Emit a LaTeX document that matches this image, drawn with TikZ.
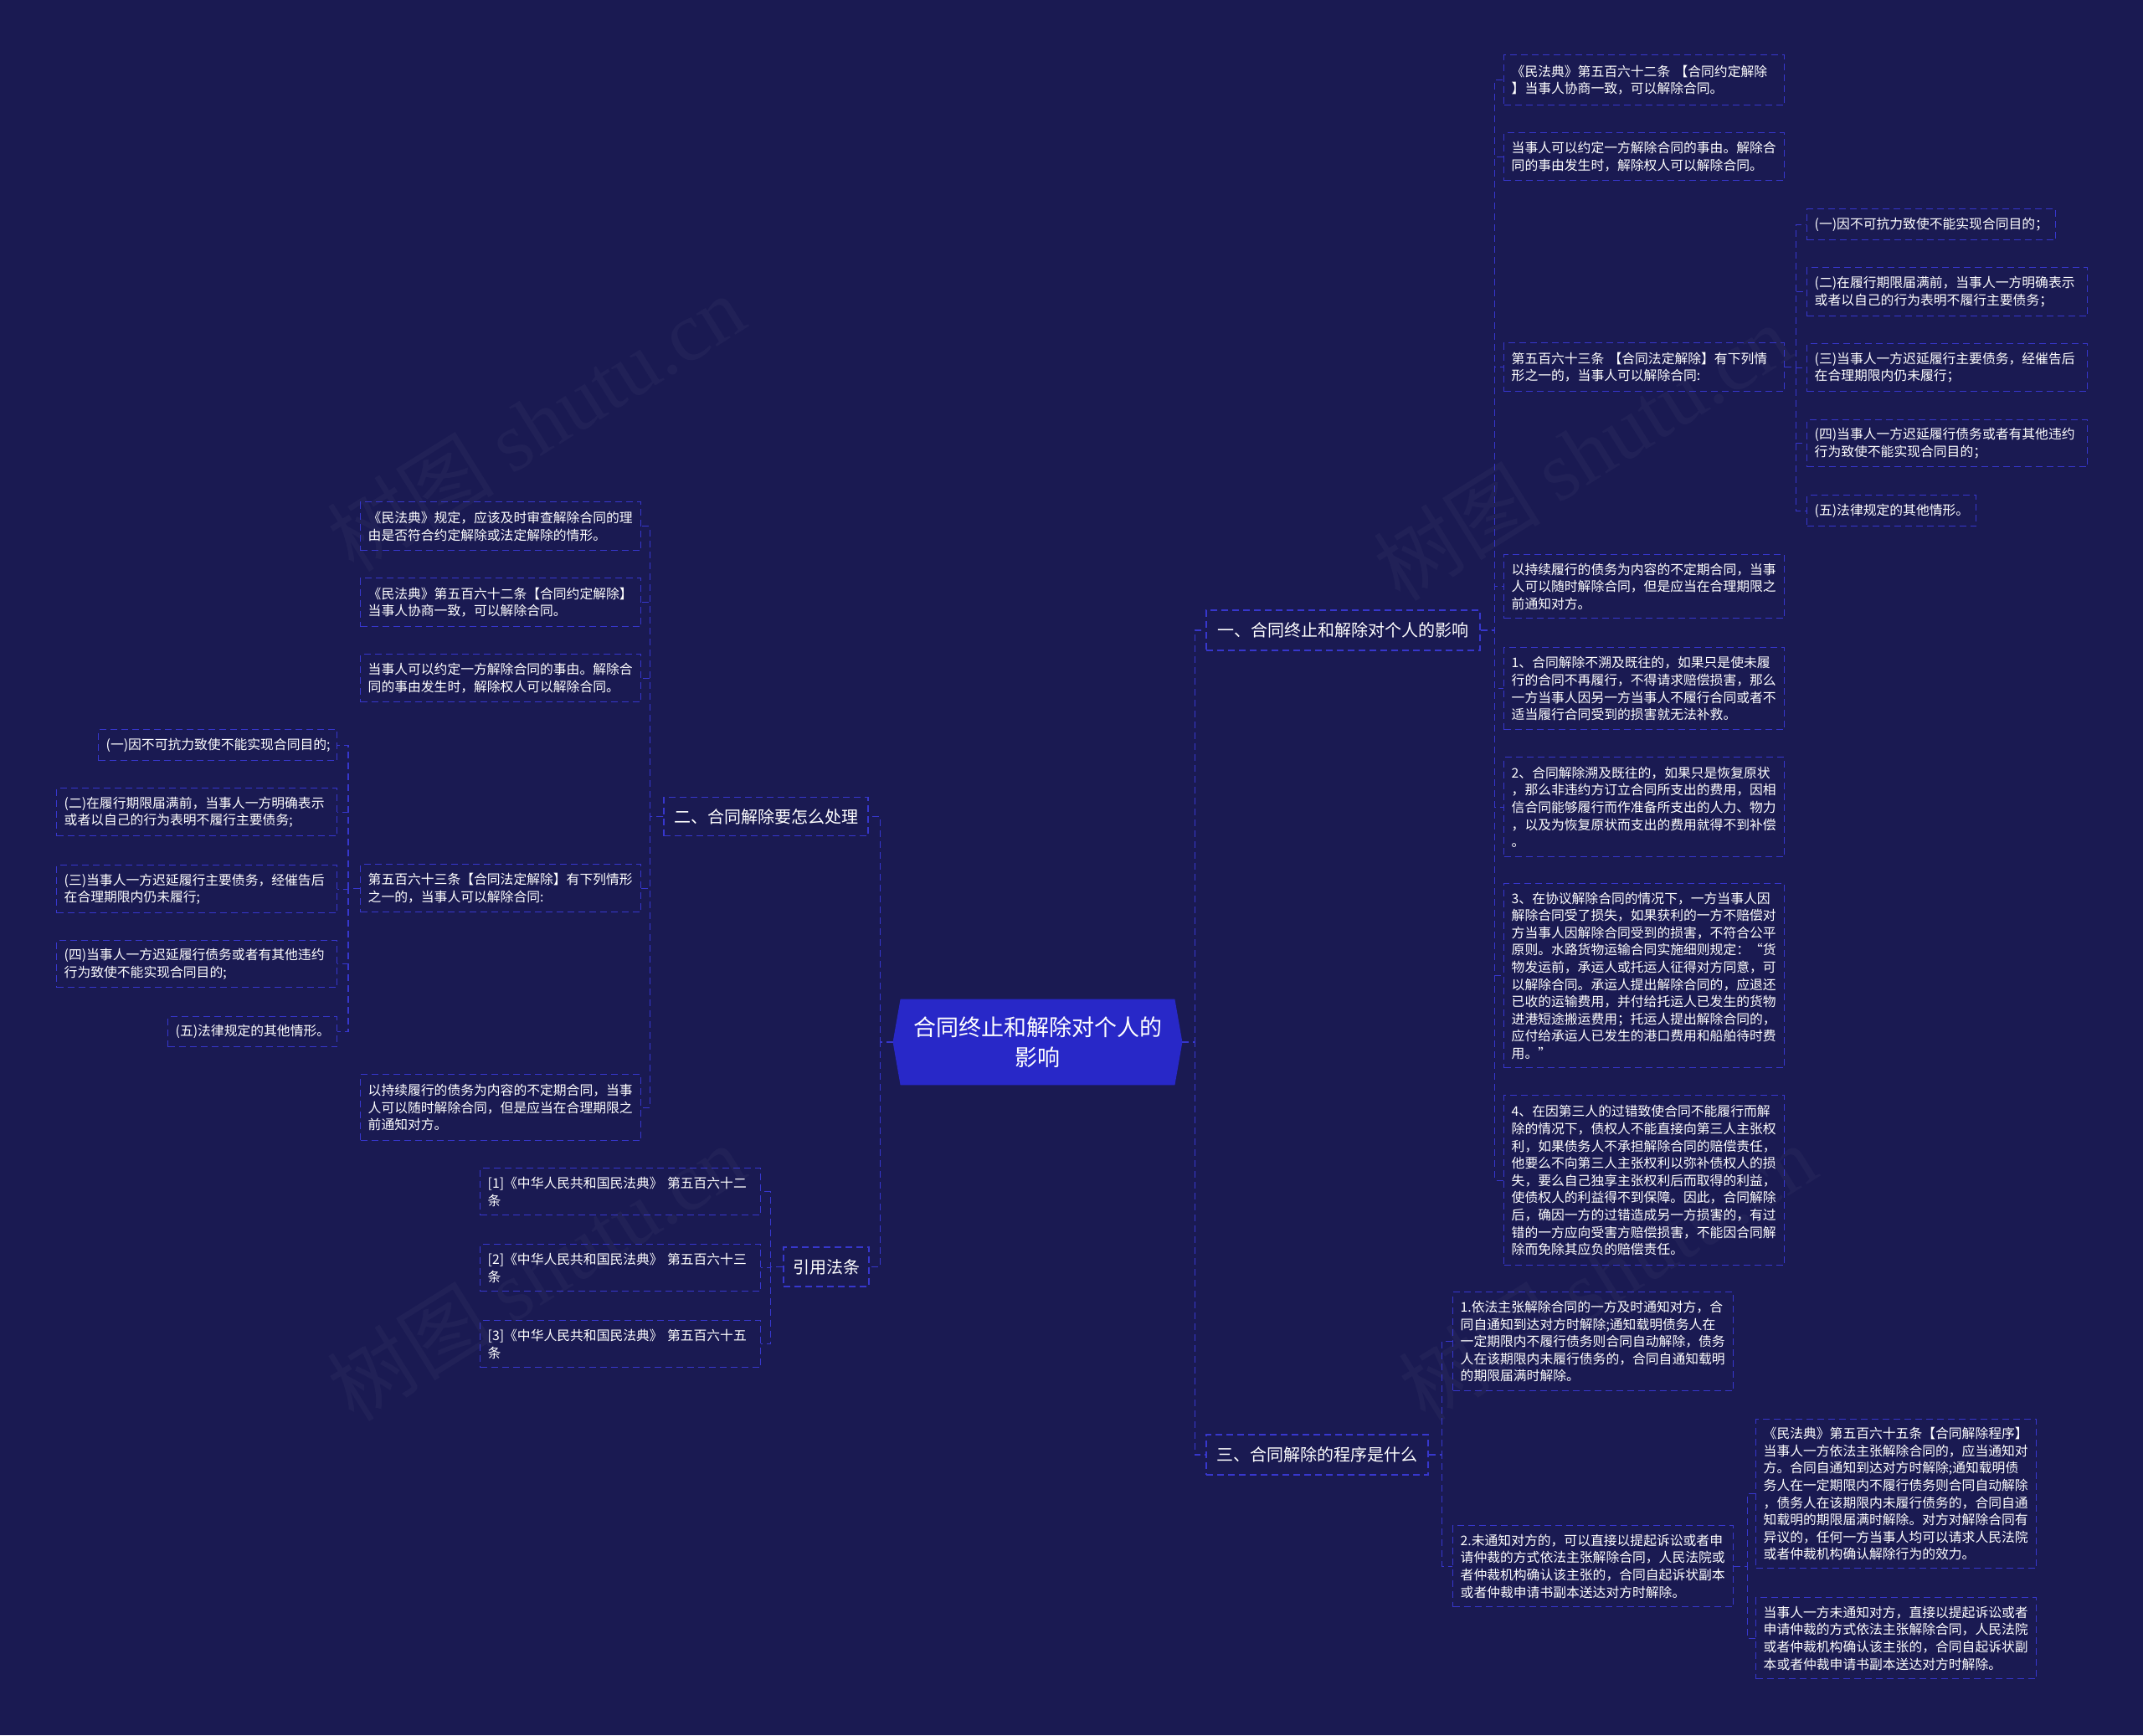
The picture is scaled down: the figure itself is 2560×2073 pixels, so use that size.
\documentclass[tikz,border=0pt]{standalone}
\usepackage{fontspec}
\setmainfont{Noto Sans CJK SC}
\newfontfamily\wmlatin{Liberation Serif}
\definecolor{bgc}{RGB}{26,26,82}
\definecolor{lnc}{RGB}{55,55,205}
\definecolor{rootc}{RGB}{40,40,200}
\pgfdeclarelayer{bglayer}
\pgfdeclarelayer{hexlayer}
\pgfsetlayers{bglayer,hexlayer,main}
\newcommand\leaffont{\fontsize{7.9pt}{10.3pt}\selectfont}
\begin{document}
\begin{tikzpicture}[x=0.5pt,y=-0.5pt,
  box/.style={draw=lnc, line width=0.7pt, dash pattern=on 4pt off 2.5pt, text=white, inner xsep=4.5pt, inner ysep=0pt},
  leaf/.style={box, anchor=north west, align=left, font=\leaffont, text width=158.5pt},
  branch/.style={box, font=\fontsize{10pt}{12pt}\selectfont, inner xsep=0pt, align=center},
  conn/.style={draw=lnc, line width=0.7pt, dash pattern=on 4pt off 2.5pt},
  wm/.style={text=white, opacity=0.03, rotate=32, font=\fontsize{50pt}{50pt}\selectfont}]

\begin{pgfonlayer}{bglayer}
\fill[bgc] (0,0) rectangle (2560,2073);
\end{pgfonlayer}
\useasboundingbox (0,0) rectangle (2560,2073);

% watermarks
\node[wm] (wm1) at (640,505) {树图 {\wmlatin shutu.cn}};
\node[wm] (wm2) at (1890,540) {树图 {\wmlatin shutu.cn}};
\node[wm] (wm3) at (640,1520) {树图 {\wmlatin shutu.cn}};
\node[wm] (wm4) at (1920,1520) {树图 {\wmlatin shutu.cn}};

% root
\node[text=white, font=\fontsize{13.5pt}{18pt}\selectfont, align=center, minimum width=163.5pt, minimum height=51pt, inner sep=0pt] (root) at (1239.5,1245) {合同终止和解除对个人的\\影响};
\begin{pgfonlayer}{hexlayer}
\fill[rootc] (root.north west) -- (root.north east) -- ([xshift=4.5pt]root.east) -- (root.south east) -- (root.south west) -- ([xshift=-4.5pt]root.west) -- cycle;
\end{pgfonlayer}

% branches
\node[branch, minimum width=163.5pt, minimum height=24pt] (R1) at (1604.5,753) {一、合同终止和解除对个人的影响};
\node[branch, minimum width=132.5pt, minimum height=24pt] (R3) at (1573.5,1738) {三、合同解除的程序是什么};
\node[branch, minimum width=122pt, minimum height=23pt] (L2) at (915,975.5) {二、合同解除要怎么处理};
\node[branch, minimum width=51pt, minimum height=23.5pt] (L4) at (987,1513.5) {引用法条};

% right branch 1 children
\node[leaf, minimum height=30pt] (a1) at (1796,65) {《民法典》第五百六十二条~【合同约定解除\\】当事人协商一致，可以解除合同。};
\node[leaf, minimum height=28.5pt] (a2) at (1796,158) {当事人可以约定一方解除合同的事由。解除合\\同的事由发生时，解除权人可以解除合同。};
\node[leaf, minimum height=29pt] (a3) at (1796,409) {第五百六十三条~【合同法定解除】有下列情\\形之一的，当事人可以解除合同:};
\node[leaf, minimum height=38pt] (a4) at (1796,662) {以持续履行的债务为内容的不定期合同，当事\\人可以随时解除合同，但是应当在合理期限之\\前通知对方。};
\node[leaf, minimum height=49pt] (a5) at (1796,773) {1、合同解除不溯及既往的，如果只是使未履\\行的合同不再履行，不得请求赔偿损害，那么\\一方当事人因另一方当事人不履行合同或者不\\适当履行合同受到的损害就无法补救。};
\node[leaf, minimum height=59.5pt] (a6) at (1796,904) {2、合同解除溯及既往的，如果只是恢复原状\\，那么非违约方订立合同所支出的费用，因相\\信合同能够履行而作准备所支出的人力、物力\\，以及为恢复原状而支出的费用就得不到补偿\\。};
\node[leaf, minimum height=110pt] (a7) at (1796,1055) {3、在协议解除合同的情况下，一方当事人因\\解除合同受了损失，如果获利的一方不赔偿对\\方当事人因解除合同受到的损害，不符合公平\\原则。水路货物运输合同实施细则规定：“货\\物发运前，承运人或托运人征得对方同意，可\\以解除合同。承运人提出解除合同的，应退还\\已收的运输费用，并付给托运人已发生的货物\\进港短途搬运费用；托运人提出解除合同的，\\应付给承运人已发生的港口费用和船舶待时费\\用。”};
\node[leaf, minimum height=101.5pt] (a8) at (1796,1308) {4、在因第三人的过错致使合同不能履行而解\\除的情况下，债权人不能直接向第三人主张权\\利，如果债务人不承担解除合同的赔偿责任，\\他要么不向第三人主张权利以弥补债权人的损\\失，要么自己独享主张权利后而取得的利益，\\使债权人的利益得不到保障。因此，合同解除\\后，确因一方的过错造成另一方损害的，有过\\错的一方应向受害方赔偿损害，不能因合同解\\除而免除其应负的赔偿责任。};

% children of a3
\node[leaf, text width=139.5pt, minimum height=18.5pt] (b1) at (2158,249) {(一)因不可抗力致使不能实现合同目的；};
\node[leaf, minimum height=29pt] (b2) at (2158,319) {(二)在履行期限届满前，当事人一方明确表示\\或者以自己的行为表明不履行主要债务；};
\node[leaf, minimum height=28.5pt] (b3) at (2158,410) {(三)当事人一方迟延履行主要债务，经催告后\\在合理期限内仍未履行；};
\node[leaf, minimum height=28pt] (b4) at (2158,501) {(四)当事人一方迟延履行债务或者有其他违约\\行为致使不能实现合同目的；};
\node[leaf, text width=92pt, minimum height=18.5pt] (b5) at (2158,591) {(五)法律规定的其他情形。};

% right branch 3 children
\node[leaf, minimum height=59pt] (c1) at (1735,1543) {1.依法主张解除合同的一方及时通知对方，合\\同自通知到达对方时解除;通知载明债务人在\\一定期限内不履行债务则合同自动解除，债务\\人在该期限内未履行债务的，合同自通知载明\\的期限届满时解除。};
\node[leaf, minimum height=48.5pt] (c2) at (1735,1822) {2.未通知对方的，可以直接以提起诉讼或者申\\请仲裁的方式依法主张解除合同，人民法院或\\者仲裁机构确认该主张的，合同自起诉状副本\\或者仲裁申请书副本送达对方时解除。};
\node[leaf, minimum height=89pt] (d1) at (2097,1695) {《民法典》第五百六十五条【合同解除程序】\\当事人一方依法主张解除合同的，应当通知对\\方。合同自通知到达对方时解除;通知载明债\\务人在一定期限内不履行债务则合同自动解除\\，债务人在该期限内未履行债务的，合同自通\\知载明的期限届满时解除。对方对解除合同有\\异议的，任何一方当事人均可以请求人民法院\\或者仲裁机构确认解除行为的效力。};
\node[leaf, minimum height=48.5pt] (d2) at (2097,1908) {当事人一方未通知对方，直接以提起诉讼或者\\申请仲裁的方式依法主张解除合同，人民法院\\或者仲裁机构确认该主张的，合同自起诉状副\\本或者仲裁申请书副本送达对方时解除。};

% left branch 2 children
\node[leaf, minimum height=29pt] (e1) at (430,599) {《民法典》规定，应该及时审查解除合同的理\\由是否符合约定解除或法定解除的情形。};
\node[leaf, minimum height=29pt] (e2) at (430,690) {《民法典》第五百六十二条【合同约定解除】\\当事人协商一致，可以解除合同。};
\node[leaf, minimum height=28.5pt] (e3) at (430,781) {当事人可以约定一方解除合同的事由。解除合\\同的事由发生时，解除权人可以解除合同。};
\node[leaf, minimum height=28.5pt] (e4) at (430,1032) {第五百六十三条【合同法定解除】有下列情形\\之一的，当事人可以解除合同:};
\node[leaf, minimum height=39.5pt] (e5) at (430,1283) {以持续履行的债务为内容的不定期合同，当事\\人可以随时解除合同，但是应当在合理期限之\\前通知对方。};

% children of e4
\node[leaf, text width=133.5pt, minimum height=18.5pt] (f1) at (117,871) {(一)因不可抗力致使不能实现合同目的;};
\node[leaf, minimum height=28.5pt] (f2) at (67,941) {(二)在履行期限届满前，当事人一方明确表示\\或者以自己的行为表明不履行主要债务;};
\node[leaf, minimum height=28.5pt] (f3) at (67,1033) {(三)当事人一方迟延履行主要债务，经催告后\\在合理期限内仍未履行;};
\node[leaf, minimum height=28pt] (f4) at (67,1123) {(四)当事人一方迟延履行债务或者有其他违约\\行为致使不能实现合同目的;};
\node[leaf, text width=92pt, minimum height=18pt] (f5) at (200,1214) {(五)法律规定的其他情形。};

% citations
\node[leaf, minimum height=28pt] (g1) at (573,1395) {[1]《中华人民共和国民法典》~第五百六十二\\条};
\node[leaf, minimum height=28pt] (g2) at (573,1486) {[2]《中华人民共和国民法典》~第五百六十三\\条};
\node[leaf, minimum height=28pt] (g3) at (573,1577) {[3]《中华人民共和国民法典》~第五百六十五\\条};

% connectors
\foreach \t in {R1,R3}
  \draw[conn] ([xshift=4.5pt]root.east) -- ([xshift=12pt]root.east) |- (\t.west);
\foreach \t in {L2,L4}
  \draw[conn] ([xshift=-4.5pt]root.west) -- ([xshift=-12pt]root.west) |- (\t.east);
\foreach \t in {a1,a2,a3,a4,a5,a6,a7,a8}
  \draw[conn] (R1.east) -- ([xshift=8.5pt]R1.east) |- (\t.west);
\foreach \t in {b1,b2,b3,b4,b5}
  \draw[conn] (a3.east) -- ([xshift=6.5pt]a3.east) |- (\t.west);
\foreach \t in {c1,c2}
  \draw[conn] (R3.east) -- ([xshift=8pt]R3.east) |- (\t.west);
\foreach \t in {d1,d2}
  \draw[conn] (c2.east) -- ([xshift=8pt]c2.east) |- (\t.west);
\foreach \t in {e1,e2,e3,e4,e5}
  \draw[conn] (L2.west) -- ([xshift=-8pt]L2.west) |- (\t.east);
\foreach \t in {f1,f2,f3,f4,f5}
  \draw[conn] (e4.west) -- ([xshift=-7pt]e4.west) |- (\t.east);
\foreach \t in {g1,g2,g3}
  \draw[conn] (L4.west) -- ([xshift=-7.5pt]L4.west) |- (\t.east);
\end{tikzpicture}
\end{document}
